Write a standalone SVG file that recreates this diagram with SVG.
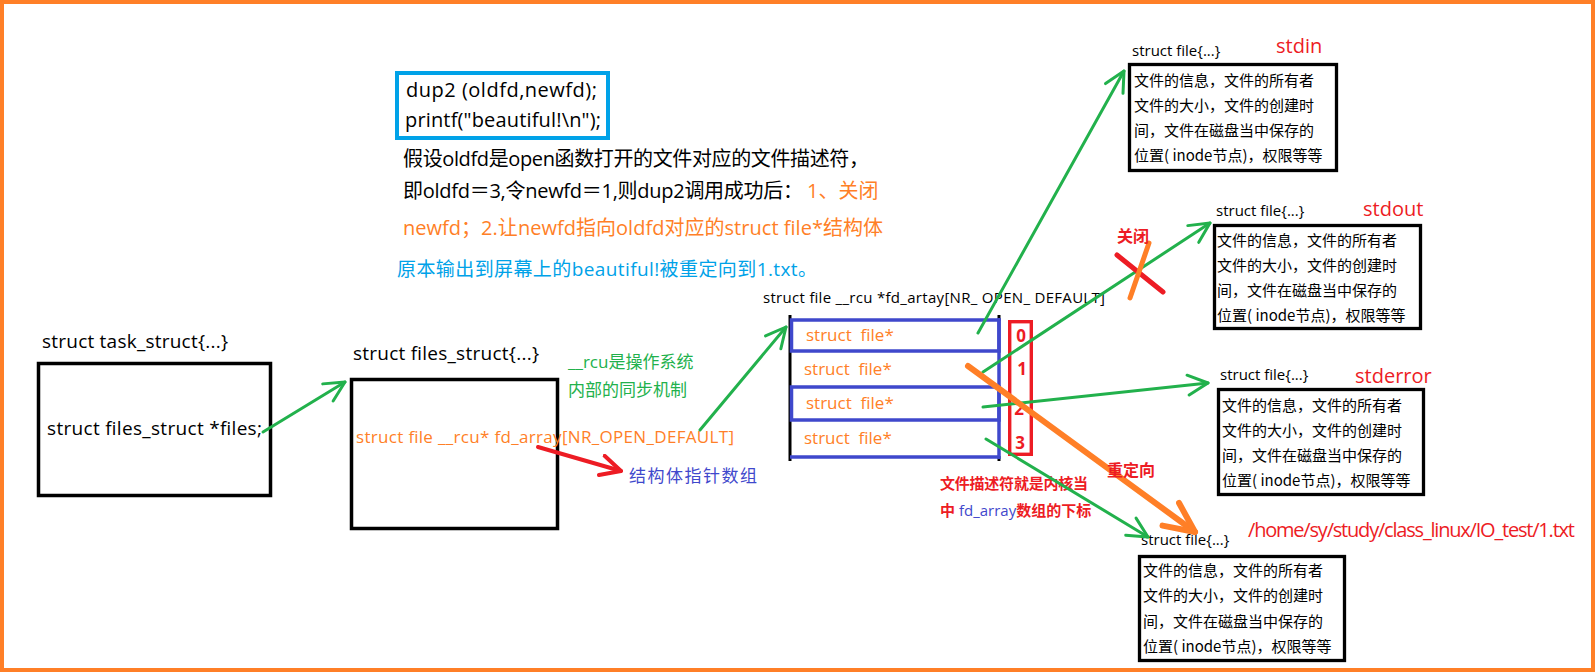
<svg xmlns="http://www.w3.org/2000/svg" width="1595" height="672" viewBox="0 0 1595 672">
<style>
text{font-family:"Open Sans","Noto Sans CJK SC",sans-serif;}
.blk{fill:#000;}
.org{fill:#ff7f27;}
.grn{fill:#22b14c;}
.red{fill:#ed1c24;}
.ind{fill:#3f48cc;}
.sky{fill:#00a2e8;}
.b{font-weight:bold;}
.box{fill:none;stroke:#000;stroke-width:3.5;}
.fbox{fill:none;stroke:#000;stroke-width:3.3;}
.g{fill:none;stroke:#22b14c;stroke-width:3;stroke-linecap:round;}
.cj{font-family:"Noto Sans CJK SC","Open Sans",sans-serif;font-size:15px;fill:#000;}
.lbl{font-size:15px;fill:#000;}
.blu{stroke:#3f48cc;stroke-width:3.5;fill:none;}
</style>
<defs>
<marker id="ag" viewBox="0 0 24 24" refX="22" refY="12" markerWidth="24" markerHeight="24" orient="auto" markerUnits="userSpaceOnUse"><path d="M2,2 L22,12 L2,22" fill="none" stroke="#22b14c" stroke-width="3" stroke-linecap="round" stroke-linejoin="round"/></marker>
<marker id="ar" viewBox="0 0 24 24" refX="22" refY="12" markerWidth="24" markerHeight="24" orient="auto" markerUnits="userSpaceOnUse"><path d="M2,2 L22,12 L2,22" fill="none" stroke="#ed1c24" stroke-width="4" stroke-linecap="round" stroke-linejoin="round"/></marker>
<marker id="ao" viewBox="0 0 38 38" refX="34" refY="19" markerWidth="38" markerHeight="38" orient="auto" markerUnits="userSpaceOnUse"><path d="M4,5 L34,19 L4,33" fill="none" stroke="#ff7f27" stroke-width="6" stroke-linecap="round" stroke-linejoin="round"/></marker>
</defs>
<rect x="0" y="0" width="1595" height="672" fill="#fff"/>
<rect x="2" y="2" width="1591" height="668" fill="none" stroke="#ff7f27" stroke-width="4"/>

<g id="note">
<rect x="397" y="73" width="211" height="65" fill="none" stroke="#00a2e8" stroke-width="4"/>
<text x="406" y="97" font-size="20" class="blk" textLength="191">dup2 (oldfd,newfd);</text>
<text x="405" y="127" font-size="20" class="blk" textLength="196">printf("beautiful!\n");</text>
<text x="403" y="166" font-size="20" class="blk" textLength="466">假设oldfd是open函数打开的文件对应的文件描述符，</text>
<text x="403" y="198" font-size="20" class="blk"><tspan textLength="400">即oldfd＝3,令newfd＝1,则dup2调用成功后：</tspan><tspan x="807" class="org">1、关闭</tspan></text>
<text x="403" y="235" font-size="20" class="org" textLength="480">newfd；2.让newfd指向oldfd对应的struct file*结构体</text>
<text x="397" y="276" font-size="19" class="sky" textLength="420">原本输出到屏幕上的beautiful!被重定向到1.txt。</text>
</g>

<g id="task_struct">
<text x="42" y="348" font-size="19" class="blk" textLength="186">struct task_struct{...}</text>
<rect x="38.5" y="363.5" width="232" height="132" class="box"/>
<text x="47" y="435" font-size="19" class="blk" textLength="215">struct files_struct *files;</text>
</g>

<g id="files_struct">
<text x="353" y="360" font-size="19" class="blk" textLength="186">struct files_struct{...}</text>
<rect x="351.5" y="379.5" width="206" height="149" class="box"/>
<text x="356" y="443" font-size="17" class="org" textLength="378">struct file __rcu* fd_array[NR_OPEN_DEFAULT]</text>
</g>

<g id="rcu_note">
<text x="568" y="368" font-size="17" class="grn">__rcu是操作系统</text>
<text x="568" y="396" font-size="17" class="grn">内部的同步机制</text>
</g>

<g id="ptr_note">
<text x="629" y="482" font-size="17" class="ind" textLength="128">结构体指针数组</text>
</g>

<g id="fd_array">
<text x="763" y="303" class="lbl" textLength="342">struct file __rcu *fd_artay[NR_ OPEN_ DEFAULT]</text>
<line x1="790" y1="315" x2="790" y2="461" stroke="#000" stroke-width="3"/>
<line x1="999" y1="315" x2="999" y2="321" stroke="#000" stroke-width="3"/>
<line x1="999" y1="456" x2="999" y2="461" stroke="#000" stroke-width="3"/>
<rect x="791.5" y="320" width="207.5" height="31" class="blu"/>
<rect x="791.5" y="387" width="207.5" height="33" class="blu"/>
<line x1="790" y1="457" x2="999" y2="457" class="blu"/>
<line x1="999" y1="318" x2="999" y2="459" class="blu"/>
<text x="806" y="341" font-size="17" class="org" xml:space="preserve">struct  file*</text>
<text x="804" y="375" font-size="17" class="org" xml:space="preserve">struct  file*</text>
<text x="806" y="409" font-size="17" class="org" xml:space="preserve">struct  file*</text>
<text x="804" y="444" font-size="17" class="org" xml:space="preserve">struct  file*</text>
<rect x="1009.7" y="321.7" width="21.6" height="132.6" fill="none" stroke="#ed1c24" stroke-width="3.4"/>
<text x="1021" y="342" font-size="17" class="red b" text-anchor="middle">0</text>
<text x="1022" y="375" font-size="17" class="red b" text-anchor="middle">1</text>
<text x="1019" y="415" font-size="17" class="red b" text-anchor="middle">2</text>
<text x="1020" y="449" font-size="17" class="red b" text-anchor="middle">3</text>
</g>

<g id="fd_note">
<text x="940" y="489" font-size="15" class="red b" textLength="148">文件描述符就是内核当</text>
<text x="940" y="516" font-size="15" class="red b">中<tspan class="ind" font-weight="normal"> fd_array</tspan>数组的下标</text>
</g>

<g id="file_stdin">
<text x="1132" y="56" class="lbl">struct file{...}</text>
<text x="1276" y="53" font-size="20" class="red">stdin</text>
<rect x="1129.5" y="64.5" width="207" height="106" class="fbox"/>
<text x="1134" y="86" class="cj">文件的信息，文件的所有者</text>
<text x="1134" y="111" class="cj">文件的大小，文件的创建时</text>
<text x="1134" y="136" class="cj">间，文件在磁盘当中保存的</text>
<text x="1134" y="161" class="cj">位置( inode节点)，权限等等</text>
</g>

<g id="file_stdout">
<text x="1216" y="216" class="lbl">struct file{...}</text>
<text x="1363" y="216" font-size="20" class="red">stdout</text>
<rect x="1214.5" y="225.5" width="206" height="103" class="fbox"/>
<text x="1217" y="246" class="cj">文件的信息，文件的所有者</text>
<text x="1217" y="271" class="cj">文件的大小，文件的创建时</text>
<text x="1217" y="296" class="cj">间，文件在磁盘当中保存的</text>
<text x="1217" y="321" class="cj">位置( inode节点)，权限等等</text>
</g>

<g id="file_stderr">
<text x="1220" y="380" class="lbl">struct file{...}</text>
<text x="1355" y="383" font-size="20" class="red">stderror</text>
<rect x="1218.5" y="389.5" width="205" height="105" class="fbox"/>
<text x="1222" y="411" class="cj">文件的信息，文件的所有者</text>
<text x="1222" y="436" class="cj">文件的大小，文件的创建时</text>
<text x="1222" y="461" class="cj">间，文件在磁盘当中保存的</text>
<text x="1222" y="486" class="cj">位置( inode节点)，权限等等</text>
</g>

<g id="file_txt">
<text x="1141" y="545" class="lbl">struct file{...}</text>
<text x="1248" y="537" font-size="20" class="red" textLength="327">/home/sy/study/class_linux/IO_test/1.txt</text>
<rect x="1139.5" y="556.5" width="205" height="104" class="fbox"/>
<text x="1143" y="576" class="cj">文件的信息，文件的所有者</text>
<text x="1143" y="601" class="cj">文件的大小，文件的创建时</text>
<text x="1143" y="627" class="cj">间，文件在磁盘当中保存的</text>
<text x="1143" y="652" class="cj">位置( inode节点)，权限等等</text>
</g>

<g id="connectors">
<line x1="263" y1="432" x2="345" y2="382" class="g" marker-end="url(#ag)"/>
<line x1="700" y1="430" x2="786" y2="327" class="g" marker-end="url(#ag)"/>
<line x1="538" y1="447" x2="621" y2="471" stroke="#ed1c24" stroke-width="4" stroke-linecap="round" marker-end="url(#ar)"/>
<line x1="978" y1="333" x2="1124" y2="71" class="g" marker-end="url(#ag)"/>
<line x1="983" y1="372" x2="1210" y2="223" class="g" marker-end="url(#ag)"/>
<line x1="983" y1="407" x2="1208" y2="383" class="g" marker-end="url(#ag)"/>
<line x1="986" y1="439" x2="1148" y2="537" class="g" marker-end="url(#ag)"/>
<line x1="968" y1="366" x2="1195" y2="532" stroke="#ff7f27" stroke-width="6" stroke-linecap="round" marker-end="url(#ao)"/>
<line x1="1117" y1="255" x2="1163" y2="292" stroke="#ed1c24" stroke-width="5" stroke-linecap="round"/>
<line x1="1149" y1="243" x2="1130" y2="298" stroke="#ff7f27" stroke-width="5" stroke-linecap="round"/>
<text x="1117" y="242" font-size="16" class="red b">关闭</text>
<text x="1107" y="476" font-size="16" class="red b">重定向</text>
</g>
</svg>
